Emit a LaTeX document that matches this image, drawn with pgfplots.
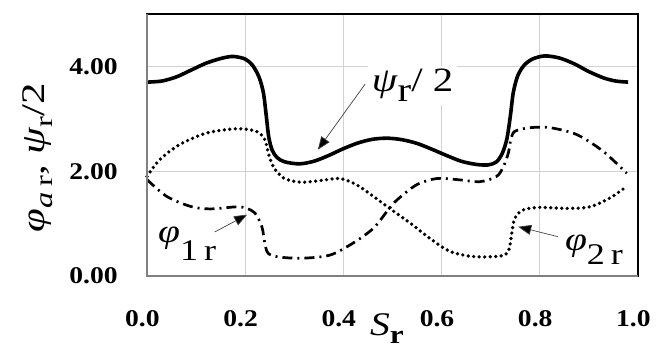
\documentclass[border=0pt]{standalone}
\usepackage{fontspec}
\setmainfont{Liberation Serif}
\usepackage{pgfplots}
\pgfplotsset{compat=1.18}
\usetikzlibrary{arrows.meta}
\newcommand{\tl}[1]{{\fontsize{24}{24}\selectfont\bfseries #1}}

\begin{document}
\begin{tikzpicture}
\begin{axis}[
    scale only axis,
    width=491pt, height=262pt,
    xmin=0, xmax=1, ymin=0, ymax=5,
    xtick={0,0.2,0.4,0.6,0.8,1.0},
    xticklabels={\tl{0.0},\tl{0.2},\tl{0.4},\tl{0.6},\tl{0.8},\tl{1.0}},
    ytick={0,2,4},
    yticklabels={\tl{0.00},\tl{2.00},\tl{4.00}},
    grid=major,
    grid style={gray!35, line width=0.8pt},
    major tick length=0pt,
    axis line style={line width=1.6pt, black},
    clip=false,
    xticklabel style={xscale=1.15, yshift=-31pt, xshift=-4pt},
    yticklabel style={xscale=1.15, xshift=-22pt},
]
% phi_1r (dotted)
\addplot[black, line width=3.7pt, line cap=round, dash pattern=on 0pt off 5.5pt, smooth, tension=0.5] coordinates {
    (0,1.90) (0.026,2.22) (0.067,2.51) (0.122,2.73) (0.183,2.81) (0.223,2.76)
    (0.240,2.60) (0.247,2.35) (0.257,2.09) (0.278,1.87) (0.312,1.79) (0.352,1.82)
    (0.393,1.86) (0.427,1.74) (0.461,1.52) (0.500,1.25) (0.536,1.01) (0.576,0.72)
    (0.617,0.47) (0.665,0.37) (0.719,0.38) (0.736,0.47) (0.743,0.82) (0.749,1.10)
    (0.766,1.26) (0.800,1.31) (0.855,1.29) (0.902,1.32) (0.943,1.49) (0.977,1.71)
};
% phi_2r (dash-dot)
\addplot[black, line width=2.7pt, dash pattern=on 10pt off 5pt on 2pt off 5pt, smooth, tension=0.5] coordinates {
    (0,1.84) (0.040,1.52) (0.088,1.33) (0.128,1.28) (0.183,1.32) (0.203,1.29)
    (0.220,1.20) (0.234,0.94) (0.240,0.63) (0.247,0.43) (0.271,0.36) (0.318,0.34)
    (0.373,0.40) (0.420,0.63) (0.461,0.91) (0.491,1.26) (0.509,1.45) (0.549,1.74)
    (0.590,1.86) (0.631,1.84) (0.678,1.80) (0.712,1.90) (0.726,2.09) (0.736,2.35)
    (0.741,2.60) (0.749,2.76) (0.780,2.83) (0.821,2.83) (0.875,2.70) (0.929,2.38)
    (0.977,1.96)
};
% psi_r / 2 (solid)
\addplot[black, line width=3.6pt, smooth, tension=0.5] coordinates {
    (0,3.70) (0.03,3.72) (0.06,3.80) (0.09,3.93) (0.12,4.06) (0.15,4.15)
    (0.175,4.19) (0.20,4.14) (0.215,4.02) (0.228,3.80) (0.237,3.50) (0.243,3.05)
    (0.248,2.65) (0.255,2.40) (0.265,2.26) (0.28,2.18) (0.31,2.14) (0.34,2.19)
    (0.37,2.30) (0.40,2.43) (0.43,2.54) (0.46,2.61) (0.49,2.63) (0.52,2.60)
    (0.55,2.53) (0.58,2.42) (0.61,2.30) (0.64,2.19) (0.67,2.13) (0.695,2.12)
    (0.712,2.18) (0.724,2.35) (0.733,2.62) (0.740,3.05) (0.746,3.50) (0.755,3.82)
    (0.768,4.02) (0.785,4.14) (0.81,4.20) (0.84,4.16) (0.87,4.05) (0.90,3.90)
    (0.93,3.78) (0.955,3.72) (0.98,3.70)
};

% annotations
\node[anchor=base west, fill=white, inner sep=3pt, xscale=1.2,
      font=\fontsize{34}{34}\selectfont]
    at (axis cs:0.450,3.52) {\textit{ψ}\raisebox{-0.3em}{r}/ 2};
\draw[black!75, line width=0.7pt, -{Triangle[length=13pt,width=10pt,fill=black]}]
    (axis cs:0.444,3.66) -- (axis cs:0.348,2.41);

\node[anchor=base west, inner sep=0pt, xscale=1.2, font=\fontsize{33}{33}\selectfont]
    at (axis cs:0.0224,0.64) {\textit{φ}\raisebox{-0.55em}{\fontsize{30}{30}\selectfont 1\,r}};
\draw[black!75, line width=0.7pt, -{Triangle[length=13pt,width=10pt,fill=black]}]
    (axis cs:0.138,0.84) -- (axis cs:0.204,1.17);

\node[anchor=base west, inner sep=0pt, xscale=1.2, font=\fontsize{33}{33}\selectfont]
    at (axis cs:0.851,0.49) {\textit{φ}\raisebox{-0.42em}{\fontsize{30}{30}\selectfont 2\,r}};
\draw[black!75, line width=0.7pt, -{Triangle[length=13pt,width=10pt,fill=black]}]
    (axis cs:0.837,0.75) -- (axis cs:0.756,0.94);

% axis labels
\node[rotate=90, xscale=1.3, font=\fontsize{33}{33}\selectfont]
    at (axis cs:-0.222,2.26) {\textit{φ}\raisebox{-0.25em}{\fontsize{25}{25}\selectfont\textit{a}\,r}, \textit{ψ}\raisebox{-0.25em}{\fontsize{25}{25}\selectfont r}/2};
\node[anchor=base west, inner sep=0pt, xscale=1.2, font=\fontsize{33}{33}\selectfont]
    at (axis cs:0.454,-1.13) {\textit{S}\raisebox{-0.25em}{\fontsize{26}{26}\selectfont\bfseries r}};
\end{axis}
\draw[gray, line width=2.2pt] (current axis.north west) -- (current axis.south west) -- (current axis.south east);
\pgfresetboundingbox
\path ([shift={(-147pt,-86pt)}]current axis.south west) rectangle ([shift={(26pt,14pt)}]current axis.north east);
\end{tikzpicture}
\end{document}
